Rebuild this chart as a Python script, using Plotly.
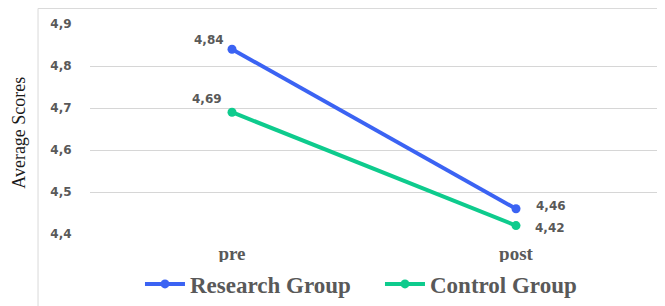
import plotly.graph_objects as go

categories = ["pre", "post"]
research_values = [4.84, 4.46]
control_values = [4.69, 4.42]
series_names = ["Research Group", "Control Group"]
y_ticks = [4.4, 4.5, 4.6, 4.7, 4.8, 4.9]

blue = "#3B63F3"
green = "#0ECB8D"
gray_text = "#595959"

fig = go.Figure()
for name, vals, col in [(series_names[0], research_values, blue),
                        (series_names[1], control_values, green)]:
    fig.add_trace(go.Scatter(
        x=categories, y=vals, name=name, mode="lines+markers",
        line=dict(color=col, width=4), marker=dict(color=col, size=9),
        hoverinfo="skip"))

# data labels (offsets are styling)
label_style = {
    ("Research Group", 0): dict(xanchor="right", xshift=-6, yshift=9),
    ("Research Group", 1): dict(xanchor="left", xshift=18, yshift=3),
    ("Control Group", 0): dict(xanchor="right", xshift=-8, yshift=13),
    ("Control Group", 1): dict(xanchor="left", xshift=17, yshift=-2),
}
for name, vals in [(series_names[0], research_values), (series_names[1], control_values)]:
    for i, (c, v) in enumerate(zip(categories, vals)):
        st = label_style[(name, i)]
        fig.add_annotation(x=c, y=v, text=f"{v:.2f}".replace(".", ","), showarrow=False,
                           font=dict(family="DejaVu Sans", size=12, color=gray_text, weight="bold"),
                           yanchor="middle", **st)

# y axis title
fig.add_annotation(xref="paper", yref="paper", x=-0.124, y=0.48, text="Average Scores",
                   showarrow=False, textangle=-90,
                   font=dict(family="Liberation Serif", size=18, color="#1a1a1a"),
                   xanchor="center", yanchor="middle")

# chart frame
frame = dict(color="#d9d9d9", width=1)
fig.add_shape(type="line", xref="paper", yref="paper", x0=-0.0915, x1=-0.0915,
              y0=1.074, y1=-0.4, line=frame)
fig.add_shape(type="line", xref="paper", yref="paper", x0=-0.0915, x1=1.03,
              y0=1.074, y1=1.074, line=frame)

fig.update_layout(
    width=665, height=306,
    margin=dict(l=82, r=15, t=16, b=80, autoexpand=False),
    paper_bgcolor="white", plot_bgcolor="white",
    separators=",.",
    showlegend=True,
    legend=dict(orientation="h", x=0.088, xanchor="left", y=-0.238, yanchor="middle",
                font=dict(family="Liberation Serif", size=23, color=gray_text, weight="bold"),
                itemwidth=40, tracegroupgap=0, entrywidth=185, entrywidthmode="pixels"),
    xaxis=dict(type="category", range=[-0.5, 1.5], showgrid=False, showline=False,
               zeroline=False, ticks="outside", ticklen=2, tickcolor="rgba(0,0,0,0)",
               tickfont=dict(family="Liberation Serif", size=19, color=gray_text, weight="bold")),
    yaxis=dict(range=[4.4, 4.9], tickvals=y_ticks, tickformat=".1f", showgrid=True,
               gridcolor="#d6d6d6", gridwidth=1, zeroline=False, showline=False,
               ticks="outside", ticklen=15, tickcolor="rgba(0,0,0,0)",
               tickfont=dict(family="DejaVu Sans", size=12, color=gray_text, weight="bold")),
)

fig.write_html("out.html")
